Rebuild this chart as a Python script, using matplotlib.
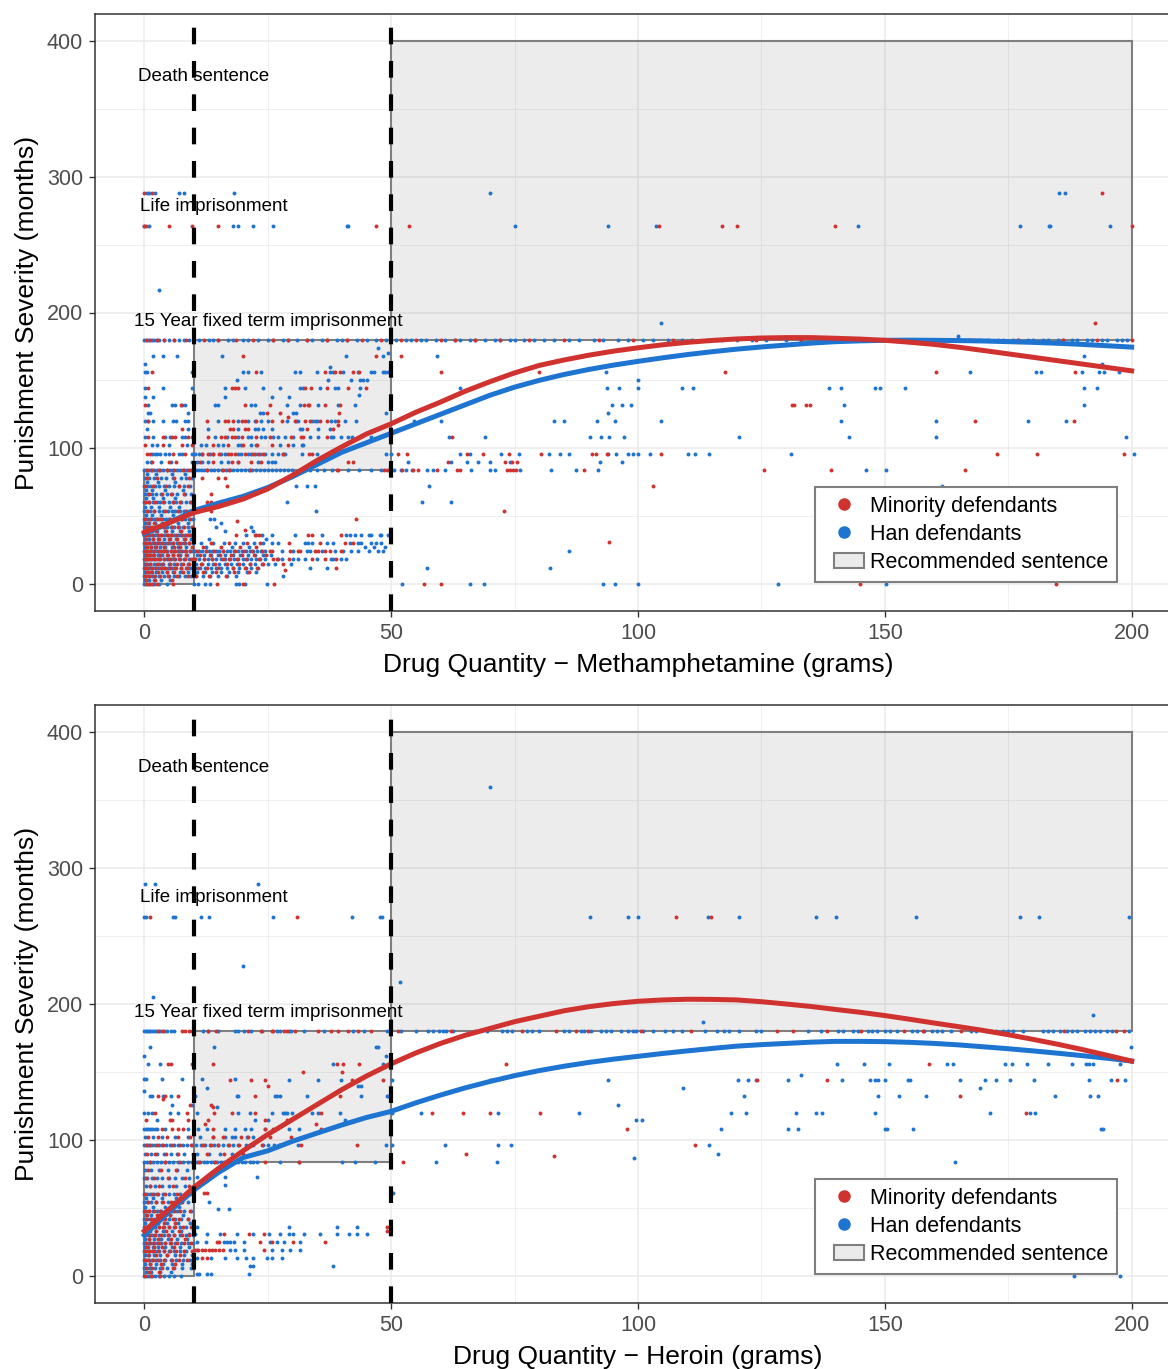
import numpy as np
import matplotlib
matplotlib.use("Agg")
import matplotlib.pyplot as plt
from matplotlib.lines import Line2D
from matplotlib.patches import Patch, Rectangle
from matplotlib.legend_handler import HandlerLine2D, HandlerPatch

plt.rcParams['font.family'] = ['Liberation Sans', 'DejaVu Sans']

# ---------------- data ----------------
x_ticks = [0, 50, 100, 150, 200]
y_ticks = [0, 100, 200, 300, 400]
x_label_top = "Drug Quantity \u2212 Methamphetamine (grams)"
x_label_bottom = "Drug Quantity \u2212 Heroin (grams)"
y_label = "Punishment Severity (months)"
legend_labels = ["Minority defendants", "Han defendants", "Recommended sentence"]
annotations = [("Death sentence", 12, 374), ("Life imprisonment", 14, 278),
               ("15 Year fixed term imprisonment", 25, 193.5)]
# recommended sentence boxes: (x0, x1, y0, y1)
rec_boxes = [(0, 10, 0, 84), (10, 50, 84, 180), (50, 200, 180, 400)]
thresholds = [10, 50]

# smoothed fits
fit_x = [0, 5, 10, 15, 20, 25, 30, 35, 40, 45, 50, 55, 60, 65, 70, 75, 80, 85, 90, 95, 100,
         105, 110, 115, 120, 125, 130, 135, 140, 145, 150, 155, 160, 165, 170, 175, 180, 185,
         190, 195, 200]
meth_minority_fit = [38, 45, 52.5, 57, 62.5, 70, 80, 91, 101, 110.5, 118, 126.5, 134, 142, 149,
                     155.5, 161, 165, 168.5, 171.5, 174, 176.2, 178, 179.4, 180.5, 181.2, 181.5,
                     181.5, 181, 180.4, 179.5, 178.1, 176.5, 174.4, 172, 169.5, 167, 164.5, 162,
                     159.5, 157]
meth_han_fit = [37, 45, 54, 59.5, 64.5, 71, 79, 88, 97, 104, 111, 118, 125, 132, 139, 145, 150,
                154.3, 158, 161.2, 164, 166.6, 169, 171.1, 173, 174.6, 176, 177.4, 178.5, 179.1,
                179.5, 179.6, 179.5, 179.3, 179, 178.5, 178, 177.3, 176.5, 175.5, 174.5]
heroin_minority_fit = [33, 49, 65, 79, 92, 104, 115, 126, 137, 147, 156, 164, 171, 177, 182,
                       187, 191, 195, 198, 200.3, 202, 203, 203.5, 203.4, 203, 201.7, 200, 198.2,
                       196, 193.9, 191.5, 188.8, 186, 183.3, 180.5, 177.4, 174, 170.4, 166.5,
                       162.3, 158]
heroin_han_fit = [30, 47, 63, 76, 87, 92, 99, 105, 111, 116.5, 121, 127.3, 133, 138.3, 143,
                  147.3, 151, 154.2, 157, 159.4, 161.5, 163.6, 165.5, 167.3, 169, 170.1, 171,
                  171.9, 172.5, 172.5, 172.3, 171.8, 171, 169.9, 168.5, 167.1, 165.5, 163.8, 162,
                  160.1, 158]

# scatter rows: (months, [grams, ...])
meth_minority_rows = [
    (288, [0, 1.5, 194]),
    (264, [0, 0.3, 5, 9.6, 15, 47, 53.6, 104.2, 117, 120, 140, 200]),
    (192, [192.5]),
    (180, [0.3, 1.2, 2.5, 4, 6, 8.5, 12, 15, 18.5, 22, 26, 29, 33, 37, 41, 44, 48, 52, 55, 60,
           63, 67, 72, 78, 85, 92, 99, 107, 116, 124, 133, 142, 151, 160, 168, 177, 186, 193, 200]),
    (168, [20, 47, 52]),
    (156, [1.5, 22.7, 36.6, 38.6, 39.6, 42.3, 43.5, 60, 80, 117.6, 160.3, 188.5]),
    (144, [0.8, 17.7, 18.3, 19, 32.5, 33.8, 37, 41.3, 44.8]),
    (132, [0.1, 7.5, 20.3, 25.4, 32.4, 33.1, 33.4, 36.6, 39.6, 131.2, 131.7, 134, 134.8]),
    (126, [24.8, 27.5, 39.5]),
    (123, [29.1]),
    (120, [0.8, 12.6, 16.3, 17, 18, 19.7, 20.3, 22.7, 25.8, 27.8, 30.5, 32.5, 33.5, 35.6, 36.9,
           39.3, 168.3, 188.4]),
    (117, [39.3]),
    (114, [7.6, 17.3, 18, 20.3, 21, 32.9, 38.3]),
    (108, [0.8, 3.8, 5.5, 6.2, 8.9, 12.9, 15.6, 16.3, 17.7, 18.3, 19.7, 22.7, 25.5, 29.8, 31.8,
           32.2, 36.9, 62.3]),
    (102, [0.1, 3.8, 7.6, 9.6, 13.9, 16.9, 20, 22.9, 25.8, 29]),
    (96, [0.5, 1.1, 5.9, 8.2, 11.6, 12.9, 13.9, 15.2, 17, 17.5, 18.3, 20.3, 22, 23, 24, 28.1,
          33.3, 34, 51.3, 53.3, 65.4, 68.7, 73.9, 80.4, 90.6, 91.4, 93.7, 104.7, 172.7, 180.8, 198.4]),
    (90, [1.5, 4.9, 6.5, 11.3, 14, 17.7, 19, 21.7, 23.7, 41.3, 42.3, 61.5, 73, 74.5, 75.5]),
    (84, [0.5, 1.5, 3, 4.5, 6, 7.8, 9.1, 12.6, 16, 17.2, 21.5, 31.5, 31.8, 39, 39.3, 48.5, 49.1,
          52.2, 54.5, 55.5, 59.3, 63.4, 64, 73.5, 74, 74.6, 75.3, 89, 125.5, 139, 166.2]),
    (78, [0.5, 2.5, 6, 9, 11.6, 14.9, 16.3]),
    (72, [0.2, 1.8, 4.4, 7.1, 8.8, 16.7, 103.0]),
    (66, [1, 3.5, 5.3, 8, 13.6]),
    (60, [0.1, 0.9, 2.2, 3.8, 5.9, 7.3, 9.5, 12.6, 13.6]),
    (54, [0.6, 1.9, 4.1, 6.8, 8.4, 13.6, 72.9]),
    (48, [0.2, 1.1, 2.6, 3.4, 5.1, 6.3, 7.7, 9.2, 42.8]),
    (46, [18.7]),
    (45, [0.8, 2, 4.7]),
    (42, [0.3, 1.4, 2.9, 3.9, 5.6, 6.9, 8.1, 9.7]),
    (40, [20.4]),
    (39, [0.6, 2.4, 4.3, 7.4]),
    (36, [0.1, 0.7, 1.6, 2.7, 3.3, 4.5, 5.4, 6.4, 7.6, 8.6, 9.4, 18.5, 22.4, 23.3, 33.2, 33.9, 39.9]),
    (33, [0.4, 1.7, 3, 5, 6.6, 8.3]),
    (31, [94.2]),
    (30, [0.2, 0.9, 1.9, 2.8, 3.6, 4.8, 5.8, 7, 8, 9.1, 13.5, 17.2, 20.8, 23.5, 29.2, 35.5, 40.6, 42.3]),
    (27, [0.5, 1.3, 2.3, 4, 6.1, 7.2, 9.6, 11.8, 15.6, 19.4, 22.6]),
    (24, [0.1, 0.6, 1.2, 2, 2.9, 3.7, 4.4, 5.3, 6.2, 7.3, 8.2, 9.3, 10.6, 12.4, 14.1, 16, 18.3,
          20.1, 21.9, 23.8, 25.4, 25.8, 29.5, 31.2, 31.5, 34.5, 35.2, 36.6, 37.6, 39.9]),
    (21, [0.3, 1, 1.8, 3.2, 4.6, 5.7, 6.9, 8.5, 11.2, 13.3, 15.4, 17.5, 19.8, 22.3, 24.6]),
    (18, [0.1, 0.7, 1.4, 2.2, 3, 3.9, 4.9, 6, 7.1, 8.3, 9.5, 10.3, 12, 13.8, 15.9, 17.2, 18.8,
          20.6, 23.2, 26.1, 26.8, 29.2, 33.9, 36.6, 38.9]),
    (15, [0.4, 1.1, 2.5, 3.5, 5.1, 6.6, 7.8, 9, 11.5, 14.4, 16.8, 19.2, 21.4, 24.1, 28.1]),
    (12, [0.2, 0.8, 1.6, 2.4, 3.3, 4.2, 5.2, 6.3, 7.5, 8.7, 9.8, 10.8, 12.7, 15, 17.9, 20.3, 22.8, 38.9]),
    (10, [28.5]),
    (9, [0.5, 1.3, 2.7, 4.5, 6.1, 7.9, 11.9, 14.6, 18.1, 21.1]),
    (6, [0.1, 0.9, 1.9, 3.1, 4.8, 6.7, 8.8, 10.5, 13.1, 16.5]),
    (3, [0.4, 2.1, 5.5]),
    (0, [0.3, 1, 1.6, 2.5, 5.9, 14.7, 20, 26.2, 56.6, 60.1, 144.9, 184.6]),
]

meth_han_rows = [
    (288, [0.6, 1, 2.2, 7, 8, 18.2, 70, 185.3, 186.5]),
    (264, [0, 1, 18, 19, 22, 26, 41, 41.3, 75, 94, 103.6, 144.6, 177.3, 183.2, 183.5, 195.6]),
    (216.5, [2.9]),
    (192, [104.6]),
    (183, [164.8]),
    (180, [0, 0.5, 1, 1.5, 2, 2.5, 3, 4, 5, 6, 7, 8, 9, 10, 11, 13, 14, 15, 17, 18, 20, 21, 23, 25,
           26, 28, 29, 31, 33, 34, 36, 37, 39, 40, 41, 43, 45, 47, 49, 50, 51, 53, 54, 56, 57, 59,
           61, 63, 64, 66, 67, 69, 71, 72, 74, 75, 77, 79, 81, 83, 86, 88, 91, 93, 96, 98, 101, 103,
           106, 109, 111, 114, 117, 120, 123, 126, 130, 133, 136, 140, 144, 147, 152, 155, 158, 160,
           163, 165, 167, 169, 171, 173, 174, 176, 177, 179, 180, 182, 183, 185, 186, 188, 189, 191,
           192, 194, 195, 197, 198, 199]),
    (174, [47.4]),
    (170, [49.4]),
    (168, [1.8, 3.8, 6.7, 15.7, 40.8, 48.4, 59.3, 190.3]),
    (162, [0.1, 194]),
    (160, [37.6]),
    (156, [0.1, 0.5, 9.6, 20, 21, 23.7, 30.5, 31.5, 35, 37.6, 38.3, 40.3, 43.3, 45.9, 46.6, 48.4,
           48.8, 49.4, 93.5, 167.3, 180.7, 181.7, 190, 193.4, 194.4, 197.4]),
    (150, [18.7, 37.3, 41.8, 43.6, 44.3, 45, 100]),
    (144, [0.1, 3.8, 9.6, 16.3, 20.3, 24.1, 27.5, 31.5, 32.2, 35.5, 38.6, 39.3, 43.6, 63.9, 93.7,
           96.1, 100, 109, 111.2, 138.6, 141.2, 148, 149, 154.1, 190.3, 193]),
    (139, [43.5]),
    (138, [0.1, 1.8, 16.3, 25.8, 29.2]),
    (132, [0.8, 5.5, 6.2, 7.6, 8.3, 14.3, 15, 21.7, 22.4, 28.8, 31.5, 35.2, 39.3, 42.6, 94.7,
           96.7, 98.6, 141.8, 190.3]),
    (126, [0.8, 1.1, 8.9, 23.4, 24.1, 30.2, 30.8, 48.9, 94]),
    (120, [0.1, 0.8, 1.8, 3.8, 5.9, 6.5, 8.3, 8.9, 15, 19, 21, 22.4, 23.7, 25, 28.8, 30.8, 31.2,
           34, 34.5, 34.9, 37.9, 38.6, 40.6, 42.9, 54.7, 60, 83, 85.1, 91.6, 95.4, 104.6, 141.2,
           160.3, 179, 186.8]),
    (114, [0.6, 8.9, 12.9, 18.9, 22.4, 23, 24, 25.8, 31.5, 31.9, 35.2, 37.6]),
    (108, [0.1, 1.8, 4.2, 5.2, 7.6, 8.3, 9.7, 14.3, 16.7, 18.9, 21, 21.7, 23.7, 24.4, 26.1, 27.1,
           28.5, 30.2, 33.5, 35.2, 37.9, 38.3, 39.9, 41.3, 42, 45.9, 61.8, 69, 90.2, 92.6, 94.2,
           97.2, 120.5, 142.7, 160.3, 198.9]),
    (102, [1.5, 2.5, 4.9, 8.6, 11.5, 12.4, 15, 16, 18.9, 19.6, 21.7, 22.7, 27.5, 30.2, 31.9, 32.2]),
    (96, [1.5, 2.2, 2.5, 3.2, 4.2, 4.9, 7, 7.6, 9.6, 10.3, 11, 11.6, 13.3, 14, 15.6, 16.3, 18.9,
          19.6, 21, 21.7, 22.4, 23.4, 24.4, 25.8, 27.1, 28.1, 28.5, 31.9, 35, 49, 50, 63.9, 66,
          72.3, 75.8, 82, 84.1, 86.1, 94, 95.5, 98, 99, 100, 102.5, 110.2, 111.5, 114.3, 130.9, 200.4]),
    (90, [0.6, 1.3, 3.4, 5.4, 9.7, 10.6, 11.6, 12.9, 15.6, 16.9, 18.9, 23.1, 25.1, 25.8, 26.5,
          53.4, 62.2, 65.4, 67.5, 70, 74, 92.3, 96.7]),
    (84, [0, 0.4, 0.9, 1.4, 2, 2.6, 3.2, 3.8, 4.5, 5.2, 5.9, 6.6, 7.3, 8, 8.7, 9.4, 10.2, 10.8,
          11.4, 12, 12.7, 13.4, 14.2, 14.9, 15.7, 16.5, 17.3, 18, 18.8, 19.6, 20.4, 21.1, 21.9,
          22.7, 23.5, 24.3, 25.1, 25.8, 26.6, 27.4, 28.3, 29.1, 30, 32.5, 33.6, 35, 36.3, 38, 41.3,
          43.5, 46, 48, 49.5, 50.5, 52, 53, 54.3, 57.2, 58.5, 61, 66.1, 70, 71, 76, 82.4, 87.5,
          91.9, 146.2, 150.3]),
    (81, [0.5, 2.3, 5.5, 8.2]),
    (78, [0.1, 1, 1.9, 3.3, 4.4, 5.8, 7.5, 8.5, 9.7]),
    (75, [0.6, 2.8, 6.2]),
    (72, [0, 0.5, 1.2, 2.1, 3, 3.9, 5, 6, 7, 8.1, 9.2, 30.8, 33, 34.5, 57.7, 161.6]),
    (69, [0.3, 1.6, 4.2, 7.8]),
    (66, [0.1, 0.8, 1.5, 2.4, 3.4, 4.6, 5.6, 6.7, 8.3, 9.5]),
    (63, [0.4, 1.8, 3.7, 6.3]),
    (60, [0, 0.4, 1, 1.7, 2.6, 3.1, 4, 4.9, 5.7, 6.5, 7.5, 8.5, 9.3, 28.8, 56.3, 62.1]),
    (57, [0.2, 1.3, 2.9, 5.2, 7.1]),
    (54, [0, 0.5, 1.1, 2, 2.9, 3.8, 4.7, 5.5, 6.2, 7.2, 8.1, 9, 9.8, 34.8]),
    (51, [0.3, 1.5, 3.3, 5.9, 8.6]),
    (48, [0, 0.4, 0.8, 1.3, 1.9, 2.4, 3, 3.7, 4.3, 5, 5.8, 6.6, 7.4, 8.3, 9.1, 9.9, 13.2, 14.2]),
    (45, [0.2, 0.9, 2.1, 3.5, 4.8, 6.9, 8.8, 15.6]),
    (42, [0, 0.5, 1, 1.6, 2.3, 3.1, 3.8, 4.6, 5.3, 6.1, 7, 7.9, 8.9, 9.6, 14.5, 21.7]),
    (39, [0.1, 0.7, 1.5, 2.6, 4.1, 5.6, 7.3, 9, 16.3, 22]),
    (36, [0, 0.3, 0.7, 1.2, 1.7, 2.2, 2.8, 3.4, 4, 4.7, 5.4, 6.1, 6.8, 7.5, 8.2, 9, 9.7, 20.5,
          22.6, 23.8, 25.8, 30.5, 35.9, 40.9, 41.6, 42.6, 43.9, 45.6, 45.9, 47.7, 48, 49.4]),
    (33, [0.2, 0.9, 1.8, 2.7, 3.9, 5.2, 6.4, 8, 9.4, 13, 24.7]),
    (30, [0, 0.3, 0.7, 1.1, 1.6, 2.1, 2.6, 3.2, 3.8, 4.4, 5.1, 5.9, 6.6, 7.4, 8.3, 9.1, 9.9, 11.5,
          14, 16.2, 18.4, 20, 22.2, 24, 25.8, 27.1, 32.5, 33.2, 33.9, 36.9, 38.3, 41.6, 43.3, 43.9,
          45.9, 47, 48]),
    (27, [0.1, 0.6, 1.3, 2.2, 3.1, 4.2, 5.5, 6.9, 8.4, 12.5, 17.8, 21.2, 44.6, 46.5, 48.8]),
    (24, [0, 0.2, 0.5, 0.9, 1.3, 1.8, 2.3, 2.8, 3.4, 4, 4.6, 5.3, 6, 6.8, 7.6, 8.4, 9.3, 9.9, 10.3,
          11, 11.7, 12.4, 13.1, 13.8, 14.5, 15.2, 16, 16.7, 17.4, 18.2, 19, 19.7, 20.5, 21.3, 22,
          22.8, 23.6, 24.4, 27.8, 30.2, 32.9, 33.5, 35.9, 38.6, 40.3, 41.9, 43.3, 45.6, 47.3, 48.4, 86]),
    (21, [0.1, 0.5, 1.1, 1.9, 2.7, 3.6, 4.7, 5.9, 7.2, 8.6, 10.7, 12, 13.5, 15, 16.4, 18, 19.4,
          21, 22.5, 24, 25.6]),
    (18, [0, 0.3, 0.6, 1, 1.5, 2, 2.6, 3.2, 3.9, 4.6, 5.4, 6.3, 7.2, 8.1, 9.1, 9.8, 10.2, 11.1, 12,
          12.9, 13.8, 14.6, 15.5, 16.4, 17.3, 18.1, 19, 19.9, 20.8, 21.7, 22.6, 23.5, 24.5, 27.1,
          27.8, 30.2, 31.2, 32.5, 34.9, 37.9, 38.3, 39.9, 40.9]),
    (15, [0.1, 0.5, 1.2, 2, 2.9, 3.8, 4.9, 6.1, 7.4, 8.8, 10.5, 11.6, 12.8, 14, 15.2, 16.4, 17.6,
          18.8, 20, 21.3, 22.5, 23.8, 25.1, 26.5, 29.8]),
    (12, [0, 0.3, 0.7, 1.1, 1.6, 2.1, 2.7, 3.3, 4, 4.8, 5.6, 6.5, 7.4, 8.4, 9.3, 10.3, 11.3, 12.3,
          13.4, 14.5, 15.6, 16.8, 18, 19.2, 20.5, 21.7, 23, 33.5, 36.9, 57.2, 82.2]),
    (9, [0.2, 0.8, 1.5, 2.4, 3.5, 4.6, 5.9, 7.3, 8.9, 10.7, 12.2, 13.8, 15.5, 17.2, 19, 20.8, 22.6]),
    (6, [0, 0.4, 0.9, 1.5, 2.2, 3, 3.9, 4.9, 6, 7.1, 8.3, 9.5, 10.4, 11.8, 13.3, 15, 16.8, 18.6, 28.1]),
    (3, [0.2, 1, 2, 3.4, 5.1]),
    (0, [0, 0.5, 1.2, 2, 3, 4.6, 10, 10.8, 12.3, 13.2, 18.5, 19.2, 20.4, 24.8, 52.2, 66, 68.8, 93,
         95.3, 100, 128.3, 150.3]),
]

heroin_minority_rows = [
    (264, [1.2, 31, 107.6, 114.7]),
    (180, [2.8, 3.8, 7.6, 8.2, 9, 9.6, 12.9, 14.6, 21, 23.7, 25.8, 26.1, 28.3, 28.8, 30.5, 35.2,
           37.9, 39.3, 41.3, 43.3, 46, 51.4, 62.1, 76.6, 83.4, 87.5, 89.9, 100.7, 110.7, 128.1,
           131.3, 138.2, 145.2, 153.8, 157.7, 165.4, 186.3, 196.9, 198.5]),
    (156, [4.7, 5.4, 9.6, 14, 39.1, 40.3, 43.5, 73.2, 158.9]),
    (150, [32.2, 40.1]),
    (144, [17.3, 21.7, 24.4, 42.1, 48.4, 124.2, 138.2, 197]),
    (140, [25.1]),
    (132, [2.7, 4.2, 6.9, 22.4, 39.6, 165.3]),
    (130, [3.8]),
    (126, [9.2, 13.6]),
    (124, [13.9]),
    (120, [2.1, 8.6, 14.2, 17.7, 22.4, 35.8, 58.2, 64.6, 70.1, 80.1, 178.7]),
    (115, [0.4, 5.2, 5.5, 8.9, 12.9, 24.4, 28.9]),
    (112, [12.3, 34.7]),
    (108, [3.5, 5.5, 6.9, 7.9, 13.9, 24.4, 26.1, 35.7, 97.7]),
    (102, [0.8, 2.8, 4.5, 6.9, 9.3, 13.9, 15.9, 19.6, 21, 25.4, 29.8]),
    (96, [0.3, 1.1, 2.5, 3.8, 5.6, 7.2, 9.4, 11.8, 13.4, 15, 17.2, 19.2, 21.5, 23.9, 27.2, 31.8,
          43.1, 111.6]),
    (90, [0.6, 2.2, 4.4, 6.8, 9.8, 12.6, 16.1, 20, 65.1]),
    (88, [82.9]),
    (84, [1.2, 4.2, 7.3, 11, 14.4, 24.4, 31.4, 52.4]),
    (78, [0.8, 3.4, 6.5]),
    (72, [0.4, 2, 4.7, 8.2]),
    (66, [1.1, 3, 5.8, 9]),
    (61, [12, 12.7]),
    (60, [0.2, 1.5, 2.6, 4.1, 6.6, 8.7]),
    (54, [0.7, 2.3, 3.7, 5.4, 7.6]),
    (48, [0.1, 1, 2, 3.2, 4.5, 6, 7.3, 9.3]),
    (45, [0.5, 2.6, 5.1]),
    (42, [0.3, 1.4, 2.8, 4.2, 5.7, 7, 8.8]),
    (39, [1.8, 3.9, 6.3]),
    (36, [0.2, 0.9, 1.7, 2.9, 3.8, 5, 6.2, 7.8, 9.5, 49.1]),
    (33, [0.6, 2.4, 4.4, 7.1, 49.2]),
    (31, [16.1, 21.1, 24.2]),
    (30, [0.1, 1.2, 2.1, 3.3, 4.7, 6, 7.6, 9.1]),
    (27, [0.9, 2.7, 5.3, 8.3]),
    (25, [14.7, 15.1, 23.5, 25.8, 30.2, 36.6]),
    (24, [0.3, 1.1, 2, 3, 4.1, 5.4, 6.7, 8, 9.4]),
    (21, [0.5, 1.9, 3.6, 6.1]),
    (19, [10.2, 10.9, 11.6, 12.3, 13, 13.7, 14.4, 15.1, 16, 24.2]),
    (18, [0.2, 1, 1.8, 2.8, 4, 5.2, 6.5, 8.1, 9.6]),
    (15, [0.7, 2.3, 4.6, 7.2]),
    (13, [11.7, 12.7]),
    (12, [0.1, 0.8, 1.7, 2.7, 3.9, 5.5, 7, 8.6]),
    (9, [1.2, 3.3, 6.3]),
    (6, [0.4, 1.6, 3.5, 5.8]),
    (3, [0.9, 2.9]),
    (0, [0.2, 1.4, 3.2]),
]

heroin_han_rows = [
    (360, [70.1]),
    (288, [0.2, 2.2, 23.1]),
    (264, [0, 0.3, 5.9, 6.3, 11.5, 13.1, 26, 42, 47.8, 48.2, 90.2, 98, 100.1, 114.1, 120.4,
           136.1, 140.2, 156.4, 177.3, 181.3, 199.4]),
    (228, [19.9]),
    (216, [51.7]),
    (205, [1.8]),
    (192, [192.2]),
    (186.5, [113.1]),
    (180, [0, 0.3, 0.6, 0.9, 1.2, 1.6, 2, 2.4, 2.9, 3.4, 4, 4.6, 5.3, 6.1, 11.9, 12.9, 14.9,
           18.4, 19, 20.2, 21.7, 23.8, 26.8, 27.4, 29.2, 29.8, 32.4, 36.3, 42.3, 44.4, 49.2, 52,
           55, 57.5, 58.5, 59.6, 60.5, 61.2, 62.5, 67, 69.5, 72.5, 73.5, 74.5, 77.5, 78.5, 80, 85,
           86, 88.5, 89, 90.5, 92.5, 93.5, 94.5, 96.5, 98, 99, 99.5, 101, 103, 105.5, 107, 109,
           113.5, 116, 117.5, 118.5, 120.5, 124, 125, 134.5, 137, 140.5, 141.5, 143.5, 144.5,
           146.5, 147.5, 148.5, 150, 151, 152.5, 155.5, 156.5, 158, 159.5, 160.5, 161.5, 163.5,
           167.5, 168.5, 170.5, 171.5, 172.5, 174, 175, 176, 178, 182, 183, 184, 185.5, 187, 188,
           189, 190.5, 191.5, 192.5, 193.5, 195, 196, 199.5]),
    (168, [1.2, 14.2, 47, 47.4, 199.9]),
    (162, [0, 49]),
    (156, [0.8, 3.2, 38.3, 48.4, 140.3, 145.7, 150.8, 162.6, 163.8, 174.4, 175.7, 178.9, 183.1,
           187.9, 190.7, 191.4, 192.1, 197.6]),
    (148, [133]),
    (145, [0, 0.4, 3.5, 7.6, 11.6, 18.3]),
    (144, [29.2, 35.1, 39.9, 43.5, 50.1, 70.1, 70.4, 94, 120.2, 122.2, 124, 130.4, 141.4, 147,
           148.1, 148.6, 150.1, 154.6, 155, 165.3, 170.3, 172.5, 175.3, 180.3, 191.3, 195.9, 198.6]),
    (140, [43.3, 43.9]),
    (138, [12.6, 109.2, 169.2]),
    (136, [0]),
    (132, [1.2, 1.5, 3.8, 5.3, 10.2, 18.7, 19, 26.5, 26.8, 27.5, 33, 43.9, 49.2, 49.4, 121.4,
           148.6, 152.9, 158.4, 184.4, 191.6, 193.2]),
    (126, [5.5, 9.6, 95.9]),
    (124, [14.7]),
    (120, [0, 0.8, 1.5, 5.2, 6.9, 10.6, 19, 21.3, 25.8, 28.1, 28.5, 28.8, 30, 33.9, 35.1, 39.6,
           50.1, 56.1, 71.6, 88, 118.8, 121.9, 132.1, 136.1, 137.3, 148.1, 171.3, 179.5, 180.5]),
    (115, [2.5, 22.4, 25.1, 40.6, 99.6, 100.8]),
    (108, [0, 0.4, 0.8, 1.2, 1.6, 2.1, 2.5, 4.2, 8.9, 10.9, 12.6, 16.3, 18.3, 20.4, 21.7, 24.4,
           29.3, 31.4, 116.8, 130.4, 132.4, 150, 150.5, 155.7, 193.8, 194.3]),
    (102, [0.1, 1.8, 3.5, 6.2, 8.9, 11.3, 13.9, 16.3, 17.7, 18.3, 20.8, 22]),
    (96, [0, 0.5, 1, 1.6, 2.2, 2.9, 3.6, 4.4, 5.2, 6, 6.9, 7.8, 8.7, 9.6, 10.5, 11.4, 12.3, 13.2,
          14.1, 15, 16, 17, 18, 19, 20.5, 22, 24, 25.1, 26.2, 31.2, 48.9, 50.1, 61, 71.6, 74.3,
          114.3]),
    (90, [0.2, 1.3, 2.6, 3.9, 5.3, 6.7, 8.1, 10.6, 13.1, 15.3, 17.8, 116.2]),
    (87, [99.1]),
    (84, [0, 0.5, 1.1, 1.8, 2.5, 3.3, 4.1, 5, 5.9, 6.8, 7.8, 8.8, 9.6, 10, 10.6, 11.3, 12, 12.7,
          13.4, 14.1, 14.8, 15.5, 16.2, 16.9, 17.6, 18.3, 19, 19.7, 20.4, 21.5, 22.1, 22.8, 27.5,
          31.4, 40, 42.7, 46.8, 59, 71.4, 164.3]),
    (78, [0.2, 1.4, 2.9, 4.7, 6.6, 8.6]),
    (73, [10.7, 12.7, 16.4, 22.8]),
    (72, [0, 0.6, 1.5, 2.5, 3.6, 4.9, 6.2, 7.6, 9.1]),
    (67, [16.4]),
    (66, [0.3, 1.2, 2.2, 3.5, 5, 6.5, 8.2]),
    (61, [9.7, 50.3]),
    (60, [0, 0.5, 1.1, 1.9, 2.8, 3.8, 4.9, 6, 7.2, 8.5, 9.6]),
    (57, [0.4, 1.7, 3.6, 6.4]),
    (54, [0, 0.6, 1.4, 2.4, 3.5, 4.7, 6, 7.4, 8.9, 13]),
    (51, [0.2, 1.8, 4.1, 7]),
    (49, [15, 17.1]),
    (48, [0, 0.4, 1, 1.7, 2.5, 3.4, 4.4, 5.5, 6.7, 8, 9.4]),
    (45, [0.3, 1.4, 3, 5.2, 7.9]),
    (42, [0, 0.5, 1.2, 2, 2.9, 3.9, 5, 6.2, 7.5, 8.9]),
    (39, [0.2, 1.3, 2.8, 4.6, 6.9, 9.2]),
    (36, [0, 0.4, 0.9, 1.5, 2.2, 3, 3.9, 4.9, 6, 7.2, 8.5, 9.7, 10.7, 29.2, 39, 43.1]),
    (33, [0.3, 1.2, 2.4, 3.8, 5.5, 7.5]),
    (31, [9, 10.3, 12.7, 15.4, 18.8, 22.1, 25.2, 27.5, 29.2, 30.2, 32.3, 35.6, 39, 41.4, 43.1, 45.1]),
    (30, [0, 0.4, 0.9, 1.5, 2.2, 3, 3.9, 4.9, 6, 7.2, 8.5, 9.8]),
    (27, [0.2, 1, 2, 3.3, 4.8, 6.6, 8.6]),
    (25, [10.7, 12.4, 16.1, 16.7, 17.4, 18.1, 20.1, 25.5, 26.9, 28.2, 31.6]),
    (24, [0, 0.3, 0.7, 1.2, 1.8, 2.5, 3.3, 4.2, 5.2, 6.3, 7.5, 8.8, 9.9]),
    (21, [0.1, 0.8, 1.7, 2.8, 4.1, 5.6, 7.3, 9.1]),
    (19, [10.7, 17.4, 18.4, 20.1, 25.8, 27.9, 29.6, 31.6]),
    (18, [0, 0.4, 0.9, 1.5, 2.2, 3, 3.9, 4.9, 6, 7.2, 8.5, 9.8]),
    (15, [0.2, 1, 2, 3.2, 4.6, 6.2, 8, 9.7]),
    (13, [10.7, 13.4, 16.4, 18.8, 20.5, 22.1, 24.8, 25.8, 27.9]),
    (12, [0, 0.4, 0.9, 1.5, 2.3, 3.2, 4.2, 5.3, 6.5, 7.8, 9.2]),
    (9, [0.2, 1.1, 2.3, 3.8, 5.6, 7.6, 9.6]),
    (7, [21.5, 22.1, 38.3]),
    (6, [0, 0.5, 1.2, 2.1, 3.2, 4.5, 6, 7.7, 9.4]),
    (3, [0.3, 1.4, 3.1, 5.4]),
    (1, [10.7, 11, 12.7, 13.4, 21.1]),
    (0, [0, 0.5, 1, 1.5, 2.2, 3, 4, 5, 6, 7.5, 188.3, 197.6]),
]

# ---------------- styling ----------------
RED = '#D0322F'
BLUE = '#1D74D1'
W, H = 1168, 1369

fig = plt.figure(figsize=(W / 100, H / 100), dpi=100)
ax_top = fig.add_axes([95 / W, (H - 611) / H, 1086 / W, 597 / H])
ax_bot = fig.add_axes([95 / W, (H - 1303) / H, 1086 / W, 598 / H])


class ShiftedMarkerHandler(HandlerLine2D):
    def get_xdata(self, legend, xdescent, ydescent, width, height, fontsize):
        xdata = np.array([-xdescent, -xdescent + width])
        xdata_marker = np.array([-xdescent + 0.62 * width])
        return xdata, xdata_marker


def legend_box(legend, orig_handle, xdescent, ydescent, width, height, fontsize):
    return Rectangle((-xdescent + 0.24 * width, -ydescent), 0.76 * width, height)


def expand(rows):
    xs, ys = [], []
    for yv, xl in rows:
        xs.extend(xl)
        ys.extend([yv] * len(xl))
    return np.array(xs), np.array(ys)


def draw_panel(ax, minority_rows, han_rows, min_fit, han_fit, xlabel):
    ax.set_xlim(-10, 210)
    ax.set_ylim(-20, 420)
    ax.set_xticks(x_ticks)
    ax.set_yticks(y_ticks)
    ax.set_xticks([25, 75, 125, 175], minor=True)
    ax.set_yticks([50, 150, 250, 350], minor=True)
    ax.grid(which='major', color='#EBEBEB', lw=1.1, zorder=0)
    ax.grid(which='minor', color='#EBEBEB', lw=0.55, zorder=0)
    ax.set_axisbelow(True)
    ax.tick_params(which='major', length=4, width=1.0, color='#333333',
                   labelsize=15.5, labelcolor='#4D4D4D', pad=4.5)
    ax.tick_params(which='minor', length=0)
    for sp in ax.spines.values():
        sp.set_color('#333333')
        sp.set_linewidth(1.1)

    for (x0, x1, y0, y1) in rec_boxes:
        ax.add_patch(Rectangle((x0, y0), x1 - x0, y1 - y0, facecolor=(0.5, 0.5, 0.5, 0.15),
                               edgecolor='#7F7F7F', lw=1.5, zorder=1))

    hx, hy = expand(han_rows)
    mx, my = expand(minority_rows)
    ax.scatter(hx, hy, s=8, color=BLUE, linewidths=0, zorder=2)
    ax.scatter(mx, my, s=8, color=RED, linewidths=0, zorder=2.1)

    ax.plot(fit_x, han_fit, color=BLUE, lw=3.6, zorder=3, solid_joinstyle='round')
    ax.plot(fit_x, min_fit, color=RED, lw=3.6, zorder=3.1, solid_joinstyle='round')

    for t in thresholds:
        ax.axvline(t, color='black', lw=3, linestyle=(0, (4, 4)), zorder=4)

    for txt, tx, ty in annotations:
        ax.text(tx, ty, txt, ha='center', va='center', fontsize=13.5, color='black', zorder=5)

    ax.set_xlabel(xlabel, fontsize=19, labelpad=6.5)
    ax.set_ylabel(y_label, fontsize=19, labelpad=6)

    h_min = Line2D([], [], marker='o', color=RED, lw=0, markersize=8)
    h_han = Line2D([], [], marker='o', color=BLUE, lw=0, markersize=8)
    h_rec = Patch(facecolor='#EBEBEB', edgecolor='#7F7F7F', lw=1.5)
    leg = ax.legend([h_min, h_han, h_rec], legend_labels, loc='lower right',
                    bbox_to_anchor=(0.941, 0.0486),
                    handler_map={h_min: ShiftedMarkerHandler(), h_han: ShiftedMarkerHandler(),
                                 h_rec: HandlerPatch(patch_func=legend_box)},
                    fontsize=15.5, frameon=True, fancybox=False, framealpha=1,
                    edgecolor='#7F7F7F', handlelength=1.85, handletextpad=0.25,
                    labelspacing=0.33, borderpad=0.42, borderaxespad=0)
    leg.get_frame().set_linewidth(1.5)
    leg.set_zorder(6)


draw_panel(ax_top, meth_minority_rows, meth_han_rows, meth_minority_fit, meth_han_fit, x_label_top)
draw_panel(ax_bot, heroin_minority_rows, heroin_han_rows, heroin_minority_fit, heroin_han_fit,
           x_label_bottom)

fig.savefig('out.png', dpi=100)
